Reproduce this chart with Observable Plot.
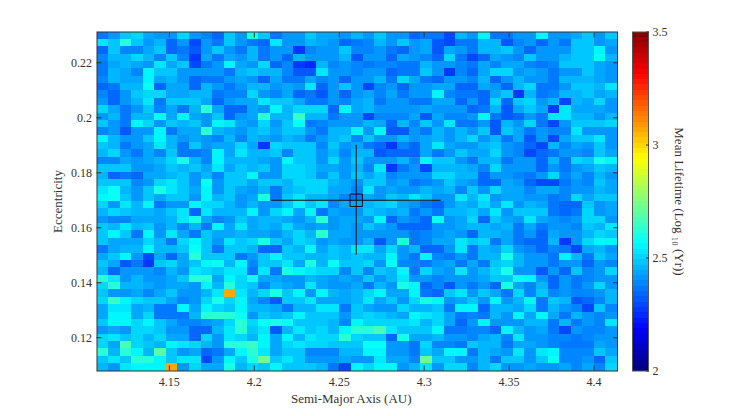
<!DOCTYPE html>
<html>
<head>
<meta charset="utf-8">
<script src="https://cdn.jsdelivr.net/npm/d3@7"></script>
<script src="https://cdn.jsdelivr.net/npm/@observablehq/plot@0.6"></script>
<style>
html,body{margin:0;padding:0;background:#fff;}
#chart{position:relative;width:737px;height:416px;overflow:hidden;}
#chart svg{position:absolute;left:0;top:0;background:transparent;}
</style>
</head>
<body>
<div id="chart"></div>
<script>
// Mean lifetime, as hundredths above log10(yr) = 2; rows run from top (high e) to bottom (low e).
const row00=[36,41,47,50,44,41,41,50,41,38,33,47,40,60,47,36,40,41,47,44,44,41,46,41,47,42,42,33,37,37,30,45,42,56,37,37,41,41,56,41,41,44,47,41,49];
const row01=[53,47,62,47,42,45,33,41,30,41,37,48,41,37,35,52,40,41,46,44,41,33,37,38,45,40,48,41,43,32,30,36,36,45,45,32,38,41,34,41,37,47,47,41,44];
const row02=[33,47,38,38,44,49,33,36,32,40,48,40,36,46,36,42,42,28,38,42,42,47,38,38,40,37,35,40,43,32,44,41,37,46,46,47,41,35,40,40,42,48,48,55,41];
const row03=[38,46,46,50,46,38,47,38,28,44,36,43,40,45,36,41,33,46,41,42,42,46,32,42,42,35,43,41,38,34,50,37,30,35,44,41,38,47,40,40,46,48,48,57,46];
const row04=[36,43,46,43,42,52,43,47,30,37,42,54,43,41,50,34,38,27,25,46,38,41,38,36,38,38,36,37,45,40,42,38,36,44,38,44,43,38,37,38,48,49,48,44,42];
const row05=[36,46,44,38,56,47,47,42,40,40,40,36,45,47,45,45,38,32,32,53,40,41,38,40,40,33,36,37,47,40,28,38,34,44,50,50,42,43,42,36,41,41,48,44,41];
const row06=[38,46,43,43,56,44,46,42,35,36,36,41,43,42,35,44,36,36,44,38,42,33,40,40,46,36,50,44,36,34,40,41,38,46,35,41,46,42,42,36,45,45,46,44,42];
const row07=[33,36,45,45,58,35,44,44,33,46,40,36,42,45,46,41,44,40,52,35,42,47,40,30,38,40,34,41,40,44,44,34,33,44,40,34,45,50,36,36,41,47,47,46,53];
const row08=[39,35,41,48,51,50,43,43,46,46,36,38,38,50,41,38,44,34,36,32,42,33,42,44,38,44,36,42,42,55,38,36,36,33,44,48,28,46,36,38,45,46,48,43,46];
const row09=[41,35,40,46,52,37,47,47,47,44,35,42,43,44,52,47,47,44,37,37,42,38,43,46,36,42,42,36,36,44,44,34,40,35,50,34,47,51,40,46,30,46,44,50,40];
const row10=[50,44,36,42,47,38,44,37,46,62,43,35,35,43,42,54,45,50,50,50,35,55,43,45,42,40,40,42,44,42,42,40,33,36,46,32,44,48,44,28,52,43,43,44,42];
const row11=[42,45,37,46,46,58,44,54,44,40,47,33,40,43,61,46,46,64,46,46,36,42,41,30,38,38,38,44,32,44,38,38,42,54,36,32,34,40,36,53,53,45,46,41,45];
const row12=[48,40,37,54,50,41,48,46,48,40,54,52,43,41,50,41,47,57,37,38,40,42,42,45,44,33,46,38,49,42,53,37,37,40,32,46,40,50,36,30,42,47,48,48,50];
const row13=[38,41,32,41,41,54,36,44,44,63,46,44,40,46,47,43,47,47,40,37,46,46,55,40,55,32,32,40,36,46,40,46,40,48,31,47,44,36,42,38,38,52,40,41,41];
const row14=[54,45,40,40,47,56,45,42,44,42,38,45,38,46,44,41,46,44,37,40,46,47,38,48,40,40,46,40,44,46,42,46,50,40,46,36,44,31,40,29,44,47,47,52,42];
const row15=[47,46,36,42,44,52,45,36,47,42,44,44,51,43,28,50,47,47,47,38,48,41,44,36,35,26,38,33,44,52,44,42,42,46,47,40,38,33,30,46,38,44,41,49,42];
const row16=[46,50,42,36,44,39,47,36,36,38,56,44,52,46,45,48,38,47,49,42,45,38,46,46,32,34,33,33,44,36,42,48,43,44,50,40,38,30,33,36,40,41,38,48,44];
const row17=[39,39,43,42,44,45,50,60,46,38,56,45,45,46,44,41,55,48,47,42,50,42,47,41,42,42,46,38,56,48,47,41,36,45,45,36,41,41,33,46,37,51,47,60,55];
const row18=[48,48,48,40,42,43,47,45,47,43,53,43,47,45,47,42,50,50,47,43,43,40,46,38,52,28,36,40,30,46,46,46,44,38,50,41,41,41,33,42,36,42,44,47,46];
const row19=[46,33,37,35,44,44,46,48,40,45,38,47,48,54,40,42,50,50,47,40,47,41,47,44,49,38,41,42,40,50,50,46,46,33,41,41,38,36,41,50,38,44,38,45,42];
const row20=[47,48,47,39,42,50,52,47,40,57,42,47,47,43,48,48,46,50,50,51,45,43,40,48,47,41,44,37,39,42,47,44,41,35,35,43,40,33,30,30,37,40,39,47,44];
const row21=[53,58,45,41,47,60,52,48,43,55,42,47,44,42,46,36,46,49,50,50,44,43,38,52,42,44,40,42,45,43,46,38,49,42,50,44,44,38,44,44,38,41,41,46,44];
const row22=[55,58,47,40,47,44,47,47,40,55,46,47,41,44,60,37,47,52,46,46,44,38,37,44,42,47,46,52,49,42,42,53,45,52,41,44,44,42,40,37,38,51,44,47,48];
const row23=[50,42,52,46,54,36,42,41,55,50,50,45,42,45,40,41,47,54,47,52,38,44,43,46,48,50,44,40,36,34,42,46,44,50,44,52,41,46,44,36,34,34,48,40,43];
const row24=[46,50,47,45,46,43,48,53,33,53,45,45,45,56,42,50,56,43,56,37,43,40,42,48,46,44,46,36,40,36,46,46,47,43,52,40,48,47,47,36,34,36,50,42,43];
const row25=[41,38,38,44,44,43,46,53,60,44,38,41,48,44,46,45,44,42,46,61,41,44,43,42,56,35,40,38,35,57,42,44,50,35,47,44,40,52,44,41,38,41,50,50,41];
const row26=[47,46,52,45,48,42,45,39,46,36,54,44,52,44,46,44,50,44,40,43,42,44,41,47,44,41,34,34,34,41,42,44,46,46,44,46,36,44,36,42,41,38,48,45,53];
const row27=[47,56,49,37,54,40,52,44,37,47,44,44,46,44,44,42,46,50,46,61,44,43,41,42,42,40,42,36,38,42,44,40,34,46,46,44,37,41,33,44,42,41,46,50,48];
const row28=[47,44,44,44,50,46,37,50,56,47,40,52,47,50,60,47,44,50,47,42,44,41,42,46,32,40,60,37,38,44,44,52,48,50,36,44,37,33,33,45,27,42,50,54,54];
const row29=[36,44,46,46,54,46,46,47,58,47,36,48,48,46,33,33,47,45,54,44,47,46,52,52,44,50,42,46,35,34,42,52,36,46,44,50,42,38,33,38,37,30,44,45,42];
const row30=[44,47,54,42,30,44,34,44,61,47,47,48,37,42,48,54,47,47,45,46,47,46,47,45,46,56,42,37,54,38,36,42,36,46,46,60,46,42,40,36,54,46,36,48,44];
const row31=[47,44,32,37,28,47,50,44,47,55,58,45,54,38,48,48,52,44,60,46,58,47,47,50,40,58,38,38,36,42,44,36,44,36,48,50,46,40,40,36,40,42,34,40,38];
const row32=[46,33,42,42,42,38,46,40,52,50,48,52,52,36,52,37,60,54,52,50,50,38,48,38,48,46,54,36,50,44,42,52,42,46,50,60,42,40,32,40,34,47,38,42,50];
const row33=[61,52,40,46,42,42,44,48,63,63,44,56,50,58,44,44,42,42,46,44,42,44,42,47,42,45,52,40,40,38,42,42,42,44,48,48,58,56,40,34,42,36,38,42,40];
const row34=[50,61,46,46,44,41,44,44,42,56,46,63,50,47,38,45,44,40,52,44,42,41,43,36,46,42,60,54,33,38,32,42,37,42,35,60,44,38,46,34,42,36,40,50,42];
const row35=[47,42,41,44,38,44,47,42,40,46,52,107,52,46,50,60,47,54,40,54,46,44,46,50,54,44,44,54,37,35,48,52,42,48,44,36,50,38,47,38,40,38,38,40,46];
const row36=[50,64,56,50,47,47,44,38,42,50,60,50,54,44,38,31,48,47,52,44,44,43,46,52,44,48,40,50,60,55,42,44,48,42,54,40,46,54,36,48,46,32,33,38,46];
const row37=[44,53,52,43,46,37,36,54,44,54,50,47,56,46,46,44,37,46,46,52,52,36,48,44,40,42,50,46,46,48,36,55,56,35,46,46,44,50,36,46,42,38,30,48,38];
const row38=[44,55,56,44,50,36,36,36,46,62,63,62,58,40,47,46,47,55,48,47,47,42,47,50,47,46,44,54,52,50,44,36,38,36,46,42,56,44,54,44,36,46,40,38,40];
const row39=[47,54,56,50,54,48,43,38,38,40,44,50,62,50,58,60,58,48,47,47,45,38,56,50,50,50,50,53,46,50,44,35,40,54,42,42,42,46,46,36,46,36,40,38,53];
const row40=[42,44,40,50,50,47,42,42,33,33,46,52,62,48,52,32,46,53,48,50,46,54,63,62,66,52,48,48,47,56,36,36,38,38,33,56,46,42,44,37,30,42,38,38,40];
const row41=[50,53,47,50,46,50,44,44,34,50,42,52,50,46,54,43,54,45,52,50,50,63,50,47,47,34,60,44,44,46,42,42,38,44,46,38,53,40,40,38,38,36,38,42,42];
const row42=[50,43,66,50,48,46,54,52,50,46,41,62,62,65,54,44,50,52,50,50,47,47,48,58,58,42,42,37,50,38,38,36,48,46,46,36,44,44,42,38,36,36,36,44,42];
const row43=[61,45,62,54,46,70,47,41,44,33,36,44,54,62,52,44,47,47,39,39,39,46,46,54,56,42,41,36,47,44,54,54,36,46,44,41,52,41,52,56,38,38,38,47,44];
const row44=[47,52,47,62,63,54,47,53,52,30,40,56,47,60,72,47,52,47,42,40,40,44,40,42,52,43,43,38,72,48,48,42,40,46,36,48,48,40,47,58,38,38,42,34,48];
const row45=[46,42,52,54,54,54,107,42,50,44,44,60,45,50,47,54,47,47,48,46,36,30,54,50,54,54,42,46,52,42,50,50,38,46,50,42,42,43,41,41,44,38,44,38,50];
const lifetimeRows=[row00,row01,row02,row03,row04,row05,row06,row07,row08,row09,row10,row11,row12,row13,row14,row15,row16,row17,row18,row19,row20,row21,row22,row23,row24,row25,row26,row27,row28,row29,row30,row31,row32,row33,row34,row35,row36,row37,row38,row39,row40,row41,row42,row43,row44,row45];

const axisDomain=[4.1074,4.4138];
const eccDomain=[0.1079,0.2312];
const axisTicks=[4.15,4.2,4.25,4.3,4.35,4.4];
const eccTicks=[0.12,0.14,0.16,0.18,0.2,0.22];
const barTicks=[2,2.5,3,3.5];
const barDomain=[2,3.5];
const crossA=[4.21,4.31], crossE=[0.15,0.19];
const markerA=[4.26], markerE=[0.17];
const ink="#333", fontFamily="'Liberation Serif','Times New Roman',serif";

// MATLAB "jet" colormap, 64 steps.
const clamp=v=>Math.max(0,Math.min(1,v));
const jet=t=>d3.rgb(255*clamp(Math.min(4*t-1.5,-4*t+4.5)),255*clamp(Math.min(4*t-0.5,-4*t+3.5)),255*clamp(Math.min(4*t+0.5,-4*t+2.5))).formatHex();
const nLevels=64;
const levels=d3.range(nLevels).map(i=>({lo:2+i*1.5/nLevels,hi:2+(i+1)*1.5/nLevels}));
const colorScale={type:"threshold",domain:levels.slice(1).map(d=>d.lo),range:levels.map((d,i)=>jet((i+0.5)/nLevels))};

const nCols=row00.length,nRows=lifetimeRows.length;
const da=(axisDomain[1]-axisDomain[0])/nCols,de=(eccDomain[1]-eccDomain[0])/nRows;
const cells=lifetimeRows.flatMap((row,r)=>row.map((v,c)=>({
  a1:axisDomain[0]+c*da,a2:axisDomain[0]+(c+1)*da,
  e1:eccDomain[1]-(r+1)*de,e2:eccDomain[1]-r*de,value:2+v/100})));
const fmt=d=>String(d);

const main=Plot.plot({
  width:737,height:416,marginLeft:96.5,marginRight:120,marginTop:31.5,marginBottom:45.5,
  style:{fontFamily,fontSize:"12px",color:ink,background:"transparent"},
  x:{domain:axisDomain,label:null},y:{domain:eccDomain,label:null},color:colorScale,
  marks:[
    Plot.rect(cells,{x1:"a1",x2:"a2",y1:"e1",y2:"e2",fill:"value",shapeRendering:"crispEdges"}),
    Plot.ruleY(markerE,{x1:crossA[0],x2:crossA[1],stroke:"#111",strokeWidth:1}),
    Plot.ruleX(markerA,{y1:crossE[0],y2:crossE[1],stroke:"#111",strokeWidth:1}),
    Plot.dot([{a:markerA[0],e:markerE[0]}],{x:"a",y:"e",symbol:"square",r:7,stroke:"#111",fill:"none",strokeWidth:1}),
    Plot.frame({stroke:ink}),
    Plot.axisX(axisTicks,{anchor:"bottom",tickSize:-5,text:null,stroke:ink,label:null}),
    Plot.axisX(axisTicks,{anchor:"top",tickSize:-5,text:null,stroke:ink,label:null}),
    Plot.axisY(eccTicks,{anchor:"left",tickSize:-5,text:null,stroke:ink,label:null}),
    Plot.axisY(eccTicks,{anchor:"right",tickSize:-5,text:null,stroke:ink,label:null}),
    Plot.axisX(axisTicks,{anchor:"bottom",tickSize:0,tickPadding:6,tickFormat:fmt,fill:ink,label:null}),
    Plot.axisY(eccTicks,{anchor:"left",tickSize:0,tickPadding:5,tickFormat:fmt,fill:ink,label:null}),
    Plot.text(["Semi-Major Axis (AU)"],{frameAnchor:"bottom",dx:-6,dy:32,fill:ink,fontSize:13}),
    Plot.text(["Eccentricity"],{frameAnchor:"left",dx:-39,rotate:-90,textAnchor:"middle",fill:ink,fontSize:13})
  ]
});

const bar=Plot.plot({
  width:737,height:416,marginLeft:632,marginRight:89,marginTop:31.5,marginBottom:45.5,
  style:{fontFamily,fontSize:"12px",color:ink,background:"transparent"},
  x:{axis:null,domain:[0,1]},y:{domain:barDomain,label:null},color:colorScale,
  marks:[
    Plot.rect(levels,{x1:0,x2:1,y1:"lo",y2:"hi",fill:d=>(d.lo+d.hi)/2,shapeRendering:"crispEdges"}),
    Plot.frame({stroke:"#555"}),
    Plot.axisY(barTicks,{anchor:"right",tickSize:-3,text:null,stroke:ink,label:null}),
    Plot.axisY(barTicks,{anchor:"right",tickSize:0,tickPadding:4,tickFormat:fmt,fill:ink,label:null}),
    Plot.text(["Mean Lifetime (Log \u2081\u2080 (Yr))"],{frameAnchor:"right",dx:31,rotate:90,textAnchor:"middle",fill:ink,fontSize:13})
  ]
});
const host=document.getElementById("chart");
host.append(main,bar);
</script>
</body>
</html>
